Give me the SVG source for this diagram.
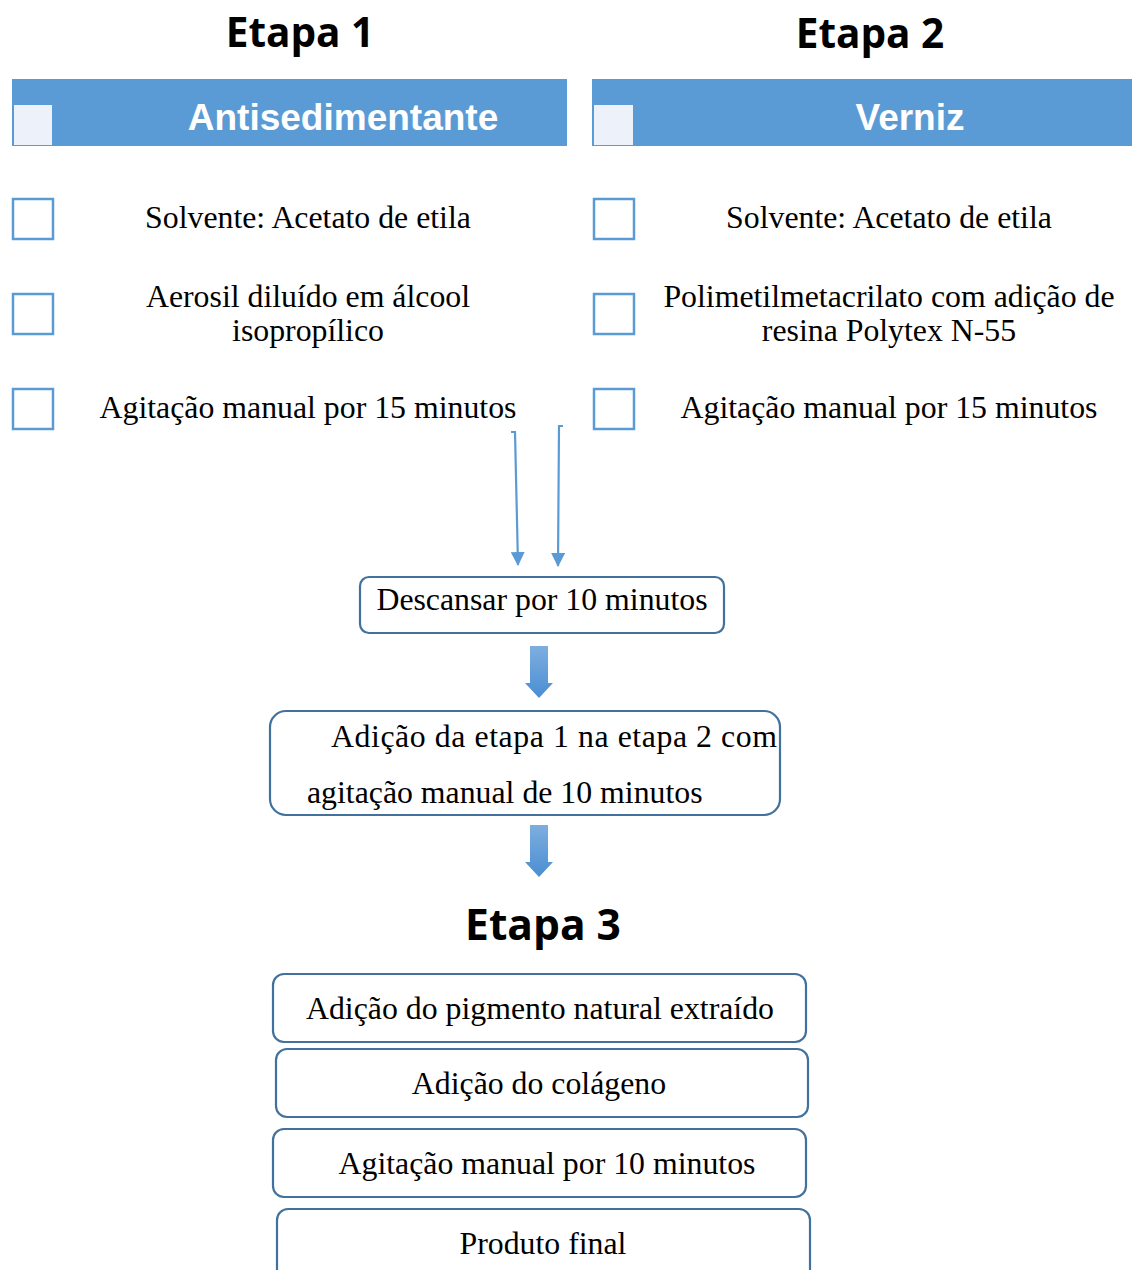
<svg xmlns="http://www.w3.org/2000/svg" width="1132" height="1270" viewBox="0 0 1132 1270">
<defs>
<style>
.title{font-family:"Open Sans","DejaVu Sans",sans-serif;font-weight:700;font-size:40.5px;fill:#000;text-anchor:middle}
.hdr{font-family:"Liberation Sans",Arial,sans-serif;font-weight:700;font-size:37px;fill:#fff;text-anchor:middle}
.t{font-family:"Liberation Serif","Times New Roman",serif;font-size:31.8px;fill:#000;text-anchor:middle}
.tl{font-family:"Liberation Serif","Times New Roman",serif;font-size:31.8px;fill:#000}
.chk{fill:#fff;stroke:#5B9BD5;stroke-width:2.5}
.box{fill:#fff;stroke:#41719C;stroke-width:2.2}
.conn{fill:none;stroke:#5B9BD5;stroke-width:2.2}
</style>
<marker id="ah" markerWidth="14" markerHeight="14" refX="13" refY="7" orient="auto" markerUnits="userSpaceOnUse" viewBox="0 0 14 14">
<path d="M0,0 L14,7 L0,14 z" fill="#5B9BD5"/>
</marker>
<linearGradient id="bg" x1="0" y1="0" x2="0" y2="1">
<stop offset="0" stop-color="#7EAEDF"/>
<stop offset="1" stop-color="#4A8ED3"/>
</linearGradient>
</defs>
<rect width="1132" height="1270" fill="#fff"/>

<g id="etapa1">
<text class="title" x="300" y="47">Etapa 1</text>
<rect x="12" y="79" width="555" height="67" fill="#5B9BD5"/>
<rect x="14" y="105" width="38" height="40" fill="#EDF2FA"/>
<text class="hdr" x="343" y="130">Antisedimentante</text>
<rect class="chk" x="13" y="199" width="40" height="40"/>
<text class="t" x="308" y="228">Solvente: Acetato de etila</text>
<rect class="chk" x="13" y="294" width="40" height="40"/>
<text class="t" x="308" y="307">Aerosil diluído em álcool</text>
<text class="t" x="308" y="341">isopropílico</text>
<rect class="chk" x="13" y="389" width="40" height="40"/>
<text class="t" x="308" y="418">Agitação manual por 15 minutos</text>
</g>

<g id="etapa2">
<text class="title" x="870" y="48">Etapa 2</text>
<rect x="592" y="79" width="540" height="67" fill="#5B9BD5"/>
<rect x="594" y="105" width="39" height="40" fill="#EDF2FA"/>
<text class="hdr" x="910" y="130">Verniz</text>
<rect class="chk" x="594" y="199" width="40" height="40"/>
<text class="t" x="889" y="228">Solvente: Acetato de etila</text>
<rect class="chk" x="594" y="294" width="40" height="40"/>
<text class="t" x="889" y="307">Polimetilmetacrilato com adição de</text>
<text class="t" x="889" y="341">resina Polytex N-55</text>
<rect class="chk" x="594" y="389" width="40" height="40"/>
<text class="t" x="889" y="418">Agitação manual por 15 minutos</text>
</g>

<g id="connectors">
<path class="conn" d="M511,432 H515 L518,565" marker-end="url(#ah)"/>
<path class="conn" d="M563,426 H559 L558,566" marker-end="url(#ah)"/>
<path d="M530,646 H548 V683 H553 L539,698 L525,683 H530 Z" fill="url(#bg)"/>
<path d="M530,825 H548 V862 H553 L539,877 L525,862 H530 Z" fill="url(#bg)"/>
</g>

<g id="descansar">
<rect class="box" x="360" y="577" width="364" height="56" rx="9"/>
<text class="t" x="542" y="610">Descansar por 10 minutos</text>
</g>

<g id="adicao">
<rect class="box" x="270" y="711" width="510" height="104" rx="16"/>
<text class="tl" x="331" y="747" textLength="446" lengthAdjust="spacing">Adição da etapa 1 na etapa 2 com</text>
<text class="tl" x="307" y="803">agitação manual de 10 minutos</text>
</g>

<g id="etapa3">
<text class="title" x="543" y="940" style="font-size:42.5px">Etapa 3</text>
</g>

<g id="pigmento">
<rect class="box" x="273" y="974" width="533" height="68" rx="11"/>
<text class="t" x="540" y="1019">Adição do pigmento natural extraído</text>
</g>
<g id="colageno">
<rect class="box" x="276" y="1049" width="532" height="68" rx="11"/>
<text class="t" x="539" y="1094">Adição do colágeno</text>
</g>
<g id="agitacao">
<rect class="box" x="273" y="1129" width="533" height="68" rx="11"/>
<text class="t" x="547" y="1174">Agitação manual por 10 minutos</text>
</g>
<g id="produto">
<rect class="box" x="277" y="1209" width="533" height="80" rx="11"/>
<text class="t" x="543" y="1254">Produto final</text>
</g>
</svg>
